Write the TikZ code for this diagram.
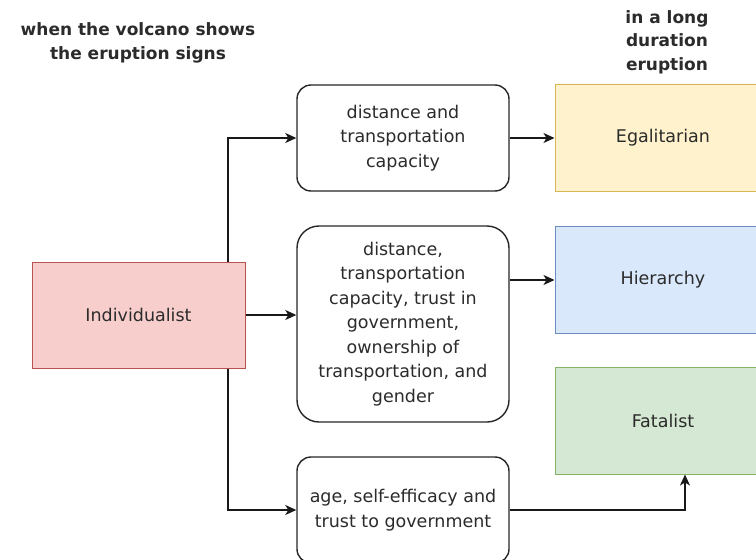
\documentclass[tikz,border=0pt]{standalone}
\usepackage{fontspec}
\setmainfont{DejaVu Sans}
\usetikzlibrary{arrows.meta}
\definecolor{redfill}{HTML}{F8CECC}\definecolor{redline}{HTML}{B85450}
\definecolor{yelfill}{HTML}{FFF2CC}\definecolor{yelline}{HTML}{D6B656}
\definecolor{blufill}{HTML}{DAE8FC}\definecolor{bluline}{HTML}{6C8EBF}
\definecolor{grnfill}{HTML}{D5E8D4}\definecolor{grnline}{HTML}{82B366}
\definecolor{txt}{HTML}{2B2B2B}
\tikzset{
  basetext/.style={text=txt, font=\fontsize{17.5}{24.5}\selectfont, align=center, inner sep=0pt},
  factor/.style={basetext, draw=black!85, line width=1.4pt, fill=white, minimum width=212pt},
  catbox/.style={basetext, line width=1pt, minimum width=216pt, minimum height=107pt},
  header/.style={text=txt, font=\bfseries\fontsize{17}{23.5}\selectfont, align=center, inner sep=0pt},
  arr/.style={draw=black!90, line width=1.4pt, -{Stealth[length=11pt,width=10pt,inset=3pt]}},
}
\begin{document}
\begin{tikzpicture}[x=1pt,y=-1pt]
\useasboundingbox (0,0) rectangle (756,560);
\clip (0,0) rectangle (756,560);
\node[header] (h1) at (138,43) {when the volcano shows\\the eruption signs};
\node[header] (h2) at (667,42) {in a long\\duration\\eruption};

\node[basetext, draw=redline, fill=redfill, line width=1pt, minimum width=213pt, minimum height=106pt] (ind) at (138.5,315) {Individualist};

\node[factor, rounded corners=14pt, minimum height=106pt] (b1) at (403,138) {distance and\\transportation\\capacity};
\node[factor, rounded corners=22pt, minimum height=196pt] (b2) at (403,324) {distance,\\transportation\\capacity, trust in\\government,\\ownership of\\transportation, and\\gender};
\node[factor, rounded corners=14pt, minimum height=106pt] (b3) at (403,510) {age, self-efficacy and\\trust to government};

\node[catbox, draw=yelline, fill=yelfill] (egal) at (663,138) {Egalitarian};
\node[catbox, draw=bluline, fill=blufill] (hier) at (663,280) {Hierarchy};
\node[catbox, draw=grnline, fill=grnfill] (fat) at (663,420.5) {Fatalist};

\draw[arr] ([xshift=89.5pt]ind.north) |- (b1.west);
\draw[arr] (ind.east) -- (ind.east -| b2.west);
\draw[arr] ([xshift=89.5pt]ind.south) |- (b3.west);
\draw[arr] (b1.east) -- (egal.west);
\draw[arr] (b2.east |- hier.west) -- (hier.west);
\draw[arr] (b3.east) -| ([xshift=22pt]fat.south);
\end{tikzpicture}
\end{document}
